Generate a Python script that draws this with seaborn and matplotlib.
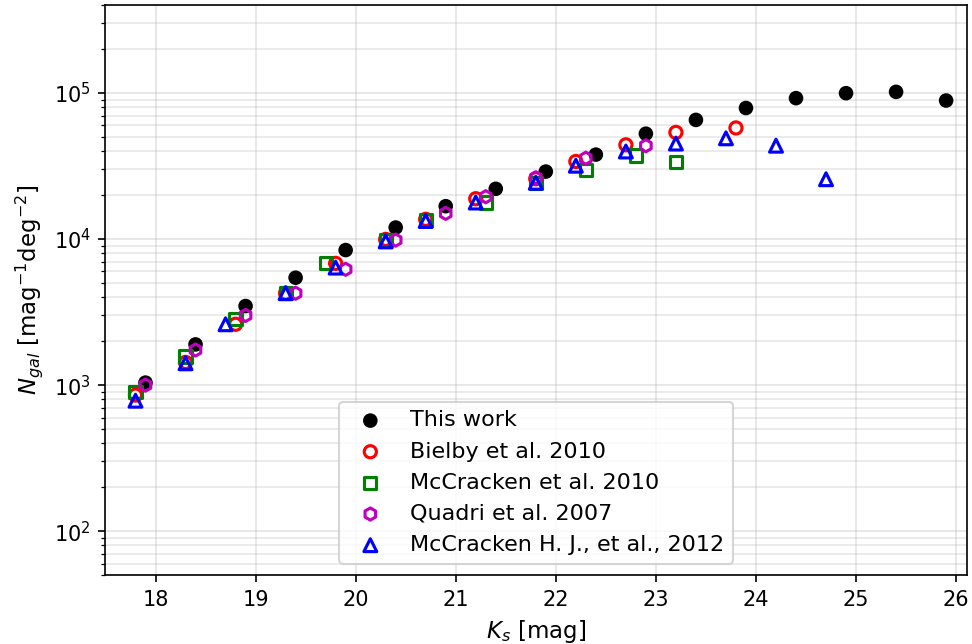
import matplotlib
matplotlib.use("Agg")
import matplotlib.pyplot as plt
import seaborn as sns
import numpy as np

# Data
this_x = [17.9, 18.4, 18.9, 19.4, 19.9, 20.4, 20.9, 21.4, 21.9, 22.4, 22.9, 23.4, 23.9, 24.4, 24.9, 25.4, 25.9]
this_y = [1040, 1900, 3480, 5440, 8410, 12000, 16800, 22100, 29000, 37900, 52700, 65500, 79000, 92300, 99800, 101900, 88900]

bielby_x = [17.8, 18.3, 18.8, 19.3, 19.8, 20.3, 20.7, 21.2, 21.8, 22.2, 22.7, 23.2, 23.8]
bielby_y = [855, 1430, 2610, 4260, 6820, 9950, 13650, 18900, 25900, 34000, 44200, 53800, 57700]

mcc10_x = [17.8, 18.3, 18.8, 19.3, 19.7, 20.3, 20.7, 21.3, 21.8, 22.3, 22.8, 23.2]
mcc10_y = [900, 1570, 2830, 4290, 6820, 9840, 13500, 17800, 24300, 29600, 37400, 33800]

quadri_x = [17.9, 18.4, 18.9, 19.4, 19.9, 20.4, 20.9, 21.3, 21.8, 22.3, 22.9]
quadri_y = [1000, 1740, 3000, 4260, 6210, 9840, 15000, 19500, 26300, 35800, 43600]

mcc12_x = [17.8, 18.3, 18.7, 19.3, 19.8, 20.3, 20.7, 21.2, 21.8, 22.2, 22.7, 23.2, 23.7, 24.2, 24.7]
mcc12_y = [782, 1410, 2610, 4260, 6380, 9640, 13300, 17800, 24300, 31800, 39800, 45100, 49000, 43600, 25700]

labels = ["This work", "Bielby et al. 2010", "McCracken et al. 2010",
          "Quadri et al. 2007", "McCracken H. J., et al., 2012"]

plt.rcParams["font.family"] = ["DejaVu Sans"]

DPI = 150
fig = plt.figure(figsize=(972 / DPI, 644 / DPI), dpi=DPI)
ax = fig.add_axes([0.1085, 0.107, 0.8865, 0.885])
ax.set_yscale("log")

sns.scatterplot(x=this_x, y=this_y, ax=ax, marker="o", color="black",
                s=49, edgecolor="none", linewidth=0, label=labels[0], zorder=3)
sns.scatterplot(x=bielby_x, y=bielby_y, ax=ax, marker="o", facecolor="none",
                edgecolor="red", s=34, linewidth=1.5, label=labels[1], zorder=3)
sns.scatterplot(x=mcc10_x, y=mcc10_y, ax=ax, marker="s", facecolor="none",
                edgecolor="green", s=34, linewidth=1.5, label=labels[2], zorder=3)
sns.scatterplot(x=quadri_x, y=quadri_y, ax=ax, marker="h", facecolor="none",
                edgecolor="m", s=34, linewidth=1.5, label=labels[3], zorder=3)
sns.scatterplot(x=mcc12_x, y=mcc12_y, ax=ax, marker="^", facecolor="none",
                edgecolor="blue", s=38, linewidth=1.5, label=labels[4], zorder=3)

ax.set_xlim(17.5, 26.11)
ax.set_ylim(50, 4e5)
ax.set_xticks(np.arange(18, 27, 1))
ax.grid(which="major", color="#b0b0b0", alpha=0.35, linewidth=0.8)
ax.grid(which="minor", axis="y", color="#b0b0b0", alpha=0.3, linewidth=0.8)
ax.set_axisbelow(True)
ax.tick_params(axis="both", which="major", labelsize=10)

ax.set_xlabel(r"$K_s$ [mag]", fontsize=11)
ax.set_ylabel(r"$N_{gal}$ [mag$^{-1}$deg$^{-2}$]", fontsize=11)

ax.legend(loc="lower center", fontsize=10.7)

fig.savefig("out.png", dpi=DPI)
